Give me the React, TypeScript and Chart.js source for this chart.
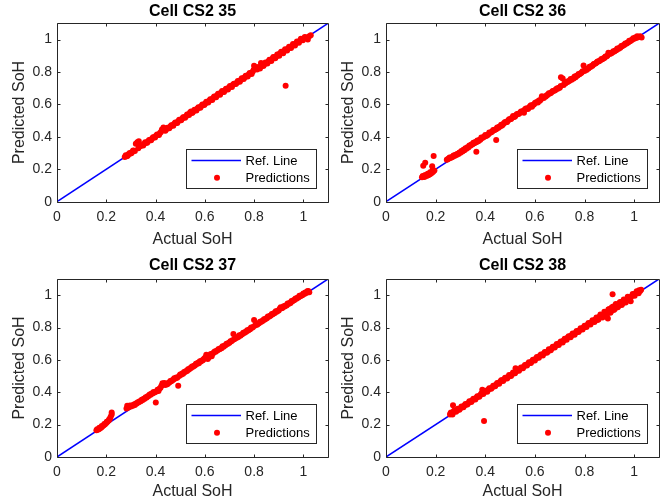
import React, { useEffect, useRef } from 'react';
import { Chart, registerables } from 'chart.js';

Chart.register(...registerables);

const cellTitles = ['Cell CS2 35', 'Cell CS2 36', 'Cell CS2 37', 'Cell CS2 38'];
const xAxisLabel = 'Actual SoH';
const yAxisLabel = 'Predicted SoH';
const seriesLabels = ['Ref. Line', 'Predictions'];
const tickValues = [0, 0.2, 0.4, 0.6, 0.8, 1];
const tickLabels = ['0', '0.2', '0.4', '0.6', '0.8', '1'];
const axisMin = 0;
const axisMax = 1.1;
const refLineX = [0, 1.1];
const refLineY = [0, 1.1];

const cs35Actual = [
  0.275, 0.283, 0.290, 0.298, 0.305, 0.312, 0.320, 0.326, 0.332, 0.330,
  0.338, 0.346, 0.354, 0.362, 0.370, 0.378, 0.386, 0.394, 0.402, 0.410,
  0.418, 0.426, 0.432, 0.436, 0.444, 0.452, 0.460, 0.468, 0.476, 0.484,
  0.492, 0.500, 0.508, 0.516, 0.524, 0.532, 0.540, 0.546, 0.554, 0.562,
  0.570, 0.578, 0.586, 0.594, 0.602, 0.610, 0.618, 0.626, 0.634, 0.642,
  0.650, 0.658, 0.666, 0.674, 0.682, 0.690, 0.698, 0.706, 0.714, 0.722,
  0.730, 0.738, 0.746, 0.754, 0.762, 0.770, 0.778, 0.786, 0.794, 0.800,
  0.806, 0.812, 0.820, 0.828, 0.834, 0.842, 0.850, 0.858, 0.866, 0.874,
  0.882, 0.890, 0.898, 0.906, 0.914, 0.922, 0.928, 0.930, 0.938, 0.946,
  0.954, 0.962, 0.970, 0.978, 0.986, 0.994, 1.002, 1.010, 1.018, 1.024,
  1.030,
  0.279, 0.287, 0.295, 0.302, 0.309, 0.316, 0.342, 0.350, 0.358, 0.366,
  0.374, 0.382, 0.390, 0.398, 0.406, 0.414, 0.422, 0.440, 0.448, 0.456,
  0.464, 0.472, 0.480, 0.488, 0.496, 0.504, 0.512, 0.520, 0.528, 0.536,
  0.544, 0.550, 0.558, 0.566, 0.574, 0.582, 0.590, 0.598, 0.606, 0.614,
  0.622, 0.630, 0.638, 0.646, 0.654, 0.662, 0.670, 0.678, 0.686, 0.694,
  0.702, 0.710, 0.718, 0.726, 0.734, 0.742, 0.750, 0.758, 0.766, 0.774,
  0.782, 0.790, 0.798, 0.810, 0.816, 0.824, 0.832, 0.838, 0.846, 0.854,
  0.862, 0.870, 0.878, 0.886, 0.894, 0.902, 0.910, 0.918, 0.926, 0.934,
  0.942, 0.950, 0.958, 0.966, 0.974, 0.982, 0.990, 0.998, 1.006, 1.014,
];
const cs35Predicted = [
  0.276, 0.280, 0.292, 0.297, 0.306, 0.314, 0.358, 0.366, 0.372, 0.330,
  0.342, 0.348, 0.357, 0.364, 0.373, 0.381, 0.390, 0.397, 0.406, 0.413,
  0.423, 0.445, 0.458, 0.441, 0.447, 0.455, 0.463, 0.472, 0.480, 0.487,
  0.496, 0.503, 0.512, 0.520, 0.527, 0.537, 0.550, 0.547, 0.558, 0.565,
  0.574, 0.581, 0.590, 0.598, 0.606, 0.614, 0.622, 0.630, 0.639, 0.647,
  0.656, 0.665, 0.672, 0.679, 0.687, 0.696, 0.704, 0.712, 0.721, 0.727,
  0.733, 0.742, 0.751, 0.760, 0.768, 0.774, 0.784, 0.792, 0.802, 0.838,
  0.826, 0.815, 0.824, 0.855, 0.840, 0.847, 0.856, 0.864, 0.873, 0.882,
  0.890, 0.896, 0.907, 0.916, 0.920, 0.929, 0.715, 0.936, 0.944, 0.952,
  0.960, 0.968, 0.977, 0.984, 0.993, 0.998, 1.006, 1.012, 1.000, 1.020,
  1.026,
  0.286, 0.284, 0.300, 0.299, 0.316, 0.312, 0.348, 0.347, 0.366, 0.363,
  0.381, 0.379, 0.398, 0.396, 0.414, 0.411, 0.430, 0.438, 0.456, 0.453,
  0.472, 0.469, 0.488, 0.486, 0.505, 0.502, 0.521, 0.518, 0.537, 0.534,
  0.556, 0.548, 0.567, 0.563, 0.583, 0.579, 0.600, 0.596, 0.616, 0.611,
  0.632, 0.627, 0.649, 0.644, 0.665, 0.660, 0.682, 0.676, 0.697, 0.692,
  0.714, 0.707, 0.728, 0.725, 0.744, 0.740, 0.761, 0.756, 0.777, 0.772,
  0.794, 0.788, 0.812, 0.826, 0.830, 0.822, 0.848, 0.836, 0.858, 0.852,
  0.875, 0.868, 0.892, 0.884, 0.908, 0.900, 0.925, 0.915, 0.940, 0.932,
  0.955, 0.948, 0.972, 0.963, 0.988, 0.980, 1.004, 0.996, 1.016, 1.010,
];

const cs36Actual = [
  0.145, 0.150, 0.155, 0.160, 0.165, 0.170, 0.175, 0.180, 0.185, 0.190,
  0.195, 0.150, 0.158, 0.186, 0.192, 0.245, 0.252, 0.260, 0.268, 0.276,
  0.284, 0.292, 0.300, 0.308, 0.316, 0.324, 0.332, 0.340, 0.348, 0.356,
  0.364, 0.364, 0.372, 0.380, 0.388, 0.396, 0.404, 0.412, 0.420, 0.428,
  0.436, 0.444, 0.444, 0.452, 0.460, 0.468, 0.476, 0.484, 0.492, 0.500,
  0.508, 0.516, 0.524, 0.532, 0.540, 0.548, 0.556, 0.564, 0.572, 0.580,
  0.588, 0.596, 0.604, 0.612, 0.620, 0.628, 0.636, 0.644, 0.652, 0.660,
  0.668, 0.676, 0.684, 0.692, 0.700, 0.705, 0.712, 0.716, 0.724, 0.732,
  0.740, 0.748, 0.756, 0.764, 0.772, 0.780, 0.788, 0.796, 0.800, 0.808,
  0.816, 0.824, 0.832, 0.840, 0.848, 0.856, 0.864, 0.872, 0.880, 0.888,
  0.896, 0.904, 0.912, 0.920, 0.928, 0.936, 0.944, 0.952, 0.960, 0.968,
  0.976, 0.984, 0.992, 1.000, 1.008, 1.016, 1.024, 1.030,
  0.148, 0.158, 0.168, 0.178, 0.188, 0.248, 0.256, 0.264, 0.272, 0.280,
  0.288, 0.296, 0.304, 0.312, 0.320, 0.328, 0.336, 0.344, 0.352, 0.360,
  0.368, 0.376, 0.384, 0.392, 0.400, 0.408, 0.416, 0.424, 0.432, 0.440,
  0.448, 0.456, 0.464, 0.472, 0.480, 0.488, 0.496, 0.504, 0.512, 0.520,
  0.528, 0.536, 0.544, 0.552, 0.560, 0.568, 0.576, 0.584, 0.592, 0.600,
  0.608, 0.616, 0.624, 0.632, 0.640, 0.648, 0.656, 0.664, 0.672, 0.680,
  0.688, 0.696, 0.704, 0.720, 0.728, 0.736, 0.744, 0.752, 0.760, 0.768,
  0.776, 0.784, 0.792, 0.804, 0.812, 0.820, 0.828, 0.836, 0.844, 0.852,
  0.860, 0.868, 0.876, 0.884, 0.892, 0.900, 0.908, 0.916, 0.924, 0.932,
  0.940, 0.948, 0.956, 0.964, 0.972, 0.980, 0.988, 0.996, 1.004, 1.012,
];
const cs36Predicted = [
  0.150, 0.155, 0.152, 0.158, 0.160, 0.163, 0.168, 0.172, 0.178, 0.185,
  0.192, 0.222, 0.240, 0.218, 0.282, 0.258, 0.265, 0.270, 0.276, 0.282,
  0.288, 0.294, 0.302, 0.310, 0.318, 0.326, 0.334, 0.345, 0.352, 0.360,
  0.308, 0.366, 0.372, 0.382, 0.392, 0.400, 0.405, 0.414, 0.425, 0.433,
  0.440, 0.380, 0.447, 0.455, 0.464, 0.470, 0.485, 0.490, 0.500, 0.508,
  0.518, 0.522, 0.535, 0.540, 0.548, 0.555, 0.548, 0.575, 0.572, 0.588,
  0.585, 0.600, 0.612, 0.612, 0.622, 0.650, 0.640, 0.648, 0.660, 0.667,
  0.676, 0.684, 0.690, 0.696, 0.702, 0.768, 0.760, 0.720, 0.730, 0.738,
  0.746, 0.752, 0.760, 0.768, 0.778, 0.786, 0.795, 0.840, 0.806, 0.812,
  0.822, 0.830, 0.838, 0.850, 0.856, 0.865, 0.872, 0.878, 0.886, 0.895,
  0.918, 0.912, 0.920, 0.926, 0.934, 0.942, 0.950, 0.958, 0.966, 0.974,
  0.982, 0.990, 0.998, 1.004, 1.010, 1.014, 1.020, 1.012,
  0.158, 0.165, 0.172, 0.182, 0.195, 0.262, 0.272, 0.274, 0.285, 0.290,
  0.296, 0.304, 0.313, 0.321, 0.330, 0.336, 0.346, 0.352, 0.363, 0.368,
  0.378, 0.380, 0.396, 0.398, 0.412, 0.410, 0.426, 0.428, 0.442, 0.445,
  0.458, 0.462, 0.474, 0.478, 0.492, 0.492, 0.508, 0.510, 0.528, 0.526,
  0.540, 0.542, 0.556, 0.560, 0.570, 0.574, 0.580, 0.594, 0.596, 0.608,
  0.614, 0.624, 0.630, 0.642, 0.648, 0.656, 0.668, 0.670, 0.682, 0.686,
  0.698, 0.702, 0.714, 0.732, 0.740, 0.744, 0.756, 0.760, 0.772, 0.776,
  0.788, 0.792, 0.804, 0.818, 0.820, 0.832, 0.836, 0.848, 0.852, 0.864,
  0.868, 0.880, 0.884, 0.896, 0.900, 0.912, 0.916, 0.928, 0.932, 0.944,
  0.948, 0.960, 0.964, 0.976, 0.980, 0.992, 0.996, 1.008, 1.012, 1.020,
];

const cs37Actual = [
  0.160, 0.165, 0.170, 0.175, 0.180, 0.185, 0.190, 0.195, 0.200, 0.205,
  0.210, 0.215, 0.218, 0.222, 0.222, 0.282, 0.285, 0.292, 0.300, 0.308,
  0.316, 0.324, 0.332, 0.340, 0.348, 0.356, 0.364, 0.372, 0.380, 0.388,
  0.396, 0.401, 0.404, 0.412, 0.420, 0.428, 0.436, 0.440, 0.448, 0.456,
  0.464, 0.472, 0.480, 0.488, 0.492, 0.496, 0.504, 0.512, 0.520, 0.528,
  0.536, 0.544, 0.552, 0.560, 0.568, 0.576, 0.584, 0.592, 0.600, 0.606,
  0.612, 0.620, 0.628, 0.636, 0.644, 0.652, 0.660, 0.668, 0.676, 0.684,
  0.692, 0.700, 0.708, 0.716, 0.720, 0.728, 0.736, 0.744, 0.752, 0.760,
  0.768, 0.776, 0.784, 0.792, 0.800, 0.804, 0.812, 0.820, 0.828, 0.836,
  0.844, 0.852, 0.860, 0.868, 0.876, 0.884, 0.892, 0.900, 0.908, 0.916,
  0.924, 0.932, 0.940, 0.948, 0.956, 0.964, 0.972, 0.980, 0.988, 0.996,
  1.004, 1.012, 1.020, 1.024,
  0.163, 0.172, 0.182, 0.192, 0.202, 0.212, 0.288, 0.296, 0.304, 0.312,
  0.320, 0.328, 0.336, 0.344, 0.352, 0.360, 0.368, 0.376, 0.384, 0.392,
  0.408, 0.416, 0.424, 0.444, 0.452, 0.460, 0.468, 0.476, 0.484, 0.500,
  0.508, 0.516, 0.524, 0.532, 0.540, 0.548, 0.556, 0.564, 0.572, 0.580,
  0.588, 0.596, 0.604, 0.616, 0.624, 0.632, 0.640, 0.648, 0.656, 0.664,
  0.672, 0.680, 0.688, 0.696, 0.704, 0.712, 0.724, 0.732, 0.740, 0.748,
  0.756, 0.764, 0.772, 0.780, 0.788, 0.796, 0.808, 0.816, 0.824, 0.832,
  0.840, 0.848, 0.856, 0.864, 0.872, 0.880, 0.888, 0.896, 0.904, 0.912,
  0.920, 0.928, 0.936, 0.944, 0.952, 0.960, 0.968, 0.976, 0.984, 0.992,
  1.000, 1.008, 1.016,
];
const cs37Predicted = [
  0.165, 0.168, 0.172, 0.178, 0.183, 0.190, 0.196, 0.203, 0.210, 0.218,
  0.226, 0.236, 0.248, 0.262, 0.275, 0.300, 0.316, 0.310, 0.312, 0.316,
  0.322, 0.330, 0.338, 0.344, 0.352, 0.360, 0.368, 0.377, 0.384, 0.392,
  0.398, 0.337, 0.405, 0.408, 0.428, 0.455, 0.458, 0.445, 0.450, 0.460,
  0.468, 0.478, 0.485, 0.490, 0.440, 0.500, 0.508, 0.515, 0.525, 0.532,
  0.540, 0.550, 0.558, 0.566, 0.575, 0.580, 0.590, 0.598, 0.612, 0.632,
  0.605, 0.628, 0.622, 0.645, 0.650, 0.660, 0.666, 0.672, 0.682, 0.690,
  0.698, 0.706, 0.716, 0.760, 0.728, 0.735, 0.742, 0.750, 0.758, 0.766,
  0.774, 0.782, 0.790, 0.798, 0.846, 0.812, 0.818, 0.826, 0.834, 0.842,
  0.850, 0.858, 0.866, 0.874, 0.882, 0.890, 0.898, 0.906, 0.926, 0.922,
  0.930, 0.936, 0.946, 0.952, 0.962, 0.970, 0.978, 0.986, 0.994, 1.000,
  1.008, 1.014, 1.026, 1.018,
  0.172, 0.180, 0.192, 0.204, 0.218, 0.234, 0.305, 0.318, 0.318, 0.324,
  0.330, 0.338, 0.344, 0.354, 0.360, 0.370, 0.376, 0.386, 0.392, 0.402,
  0.416, 0.422, 0.440, 0.452, 0.458, 0.470, 0.474, 0.486, 0.492, 0.510,
  0.516, 0.526, 0.532, 0.542, 0.548, 0.560, 0.564, 0.576, 0.582, 0.592,
  0.596, 0.606, 0.618, 0.615, 0.636, 0.640, 0.652, 0.656, 0.668, 0.672,
  0.684, 0.688, 0.700, 0.704, 0.716, 0.722, 0.738, 0.740, 0.752, 0.756,
  0.768, 0.772, 0.784, 0.788, 0.800, 0.804, 0.822, 0.824, 0.836, 0.840,
  0.852, 0.856, 0.868, 0.872, 0.884, 0.888, 0.900, 0.904, 0.916, 0.920,
  0.932, 0.936, 0.948, 0.952, 0.964, 0.968, 0.980, 0.984, 0.996, 1.000,
  1.010, 1.016, 1.024,
];

const cs38Actual = [
  0.258, 0.262, 0.266, 0.270, 0.272, 0.278, 0.285, 0.292, 0.300, 0.308,
  0.316, 0.324, 0.332, 0.340, 0.348, 0.356, 0.364, 0.372, 0.380, 0.388,
  0.395, 0.396, 0.404, 0.412, 0.420, 0.428, 0.436, 0.444, 0.452, 0.460,
  0.468, 0.476, 0.484, 0.492, 0.500, 0.508, 0.516, 0.522, 0.524, 0.532,
  0.540, 0.548, 0.556, 0.564, 0.572, 0.580, 0.588, 0.596, 0.604, 0.612,
  0.620, 0.628, 0.636, 0.644, 0.652, 0.660, 0.668, 0.676, 0.684, 0.692,
  0.700, 0.708, 0.716, 0.724, 0.732, 0.740, 0.748, 0.756, 0.764, 0.772,
  0.780, 0.788, 0.796, 0.804, 0.812, 0.820, 0.828, 0.836, 0.844, 0.852,
  0.860, 0.868, 0.876, 0.884, 0.890, 0.894, 0.900, 0.906, 0.913, 0.916,
  0.922, 0.930, 0.938, 0.946, 0.954, 0.962, 0.970, 0.978, 0.986, 0.990,
  0.998, 1.006, 1.014, 1.020, 1.028,
  0.260, 0.268, 0.275, 0.282, 0.289, 0.296, 0.304, 0.312, 0.320, 0.328,
  0.336, 0.344, 0.352, 0.360, 0.368, 0.376, 0.384, 0.392, 0.400, 0.408,
  0.416, 0.424, 0.432, 0.440, 0.448, 0.456, 0.464, 0.472, 0.480, 0.488,
  0.496, 0.504, 0.512, 0.520, 0.528, 0.536, 0.544, 0.552, 0.560, 0.568,
  0.576, 0.584, 0.592, 0.600, 0.608, 0.616, 0.624, 0.632, 0.640, 0.648,
  0.656, 0.664, 0.672, 0.680, 0.688, 0.696, 0.704, 0.712, 0.720, 0.728,
  0.736, 0.744, 0.752, 0.760, 0.768, 0.776, 0.784, 0.792, 0.800, 0.808,
  0.816, 0.824, 0.832, 0.840, 0.848, 0.856, 0.864, 0.872, 0.880, 0.888,
  0.896, 0.904, 0.910, 0.918, 0.926, 0.934, 0.942, 0.950, 0.958, 0.966,
  0.974, 0.982, 0.994, 1.002, 1.010, 1.018, 1.024,
];
const cs38Predicted = [
  0.262, 0.275, 0.268, 0.320, 0.280, 0.282, 0.286, 0.294, 0.302, 0.310,
  0.318, 0.325, 0.334, 0.343, 0.350, 0.358, 0.366, 0.374, 0.383, 0.415,
  0.222, 0.400, 0.408, 0.415, 0.424, 0.430, 0.440, 0.448, 0.455, 0.465,
  0.475, 0.480, 0.490, 0.495, 0.503, 0.512, 0.518, 0.548, 0.528, 0.536,
  0.544, 0.552, 0.560, 0.568, 0.576, 0.583, 0.592, 0.600, 0.608, 0.615,
  0.625, 0.632, 0.640, 0.648, 0.650, 0.663, 0.670, 0.680, 0.688, 0.695,
  0.704, 0.712, 0.720, 0.728, 0.738, 0.745, 0.752, 0.760, 0.768, 0.776,
  0.784, 0.792, 0.800, 0.808, 0.818, 0.824, 0.833, 0.842, 0.850, 0.846,
  0.866, 0.878, 0.870, 0.895, 0.880, 0.856, 0.915, 0.898, 1.005, 0.930,
  0.915, 0.942, 0.935, 0.958, 0.950, 0.970, 0.968, 0.985, 0.962, 0.994,
  1.002, 1.012, 1.020, 1.030, 1.034,
  0.270, 0.262, 0.287, 0.279, 0.298, 0.292, 0.312, 0.307, 0.328, 0.324,
  0.344, 0.340, 0.360, 0.356, 0.376, 0.372, 0.393, 0.389, 0.410, 0.404,
  0.425, 0.421, 0.441, 0.437, 0.458, 0.452, 0.474, 0.469, 0.490, 0.485,
  0.506, 0.501, 0.522, 0.517, 0.537, 0.533, 0.553, 0.549, 0.569, 0.565,
  0.585, 0.581, 0.601, 0.597, 0.618, 0.613, 0.634, 0.628, 0.649, 0.644,
  0.666, 0.660, 0.682, 0.676, 0.698, 0.692, 0.714, 0.708, 0.731, 0.724,
  0.746, 0.740, 0.763, 0.756, 0.779, 0.772, 0.795, 0.788, 0.811, 0.804,
  0.828, 0.819, 0.845, 0.835, 0.862, 0.850, 0.880, 0.862, 0.898, 0.876,
  0.912, 0.892, 0.926, 0.908, 0.945, 0.925, 0.956, 0.940, 0.974, 0.955,
  0.990, 0.972, 1.008, 0.996, 1.024, 1.012, 1.026,
];

const cellActual = [cs35Actual, cs36Actual, cs37Actual, cs38Actual];
const cellPredicted = [cs35Predicted, cs36Predicted, cs37Predicted, cs38Predicted];

// layout of each subplot (page pixels, not data)
const panels = [
  { left: 0, top: 0, width: 332, height: 252, yAxisW: 57, padRight: 2.5, titleTop: 2.4, titleBottom: 1.7, xAxisH: 50.3, yTitlePad: 10 },
  { left: 332, top: 0, width: 333, height: 252, yAxisW: 54, padRight: 6, titleTop: 2.4, titleBottom: 1.7, xAxisH: 50.3, yTitlePad: 6.6 },
  { left: 0, top: 252, width: 332, height: 252, yAxisW: 57, padRight: 2.5, titleTop: 4.1, titleBottom: 3.7, xAxisH: 47, yTitlePad: 10 },
  { left: 332, top: 252, width: 333, height: 252, yAxisW: 54, padRight: 6, titleTop: 4.1, titleBottom: 3.7, xAxisH: 47, yTitlePad: 6.6 },
];

const FONT = '"Liberation Sans", Arial, Helvetica, sans-serif';
const AX_COLOR = '#262626';

const boxPlugin = {
  id: 'matlabBox',
  afterDatasetsDraw(chart: any) {
    const { ctx, chartArea: a, scales } = chart;
    const L = Math.round(a.left) + 0.5;
    const R = Math.round(a.right) + 0.5;
    const T = Math.round(a.top) + 0.5;
    const B = Math.round(a.bottom) + 0.5;
    const tl = 3;
    ctx.save();
    ctx.strokeStyle = AX_COLOR;
    ctx.lineWidth = 1;
    ctx.beginPath();
    ctx.rect(L, T, R - L, B - T);
    tickValues.forEach((v) => {
      const x = Math.round(scales.x.getPixelForValue(v)) + 0.5;
      ctx.moveTo(x, B); ctx.lineTo(x, B - tl);
      ctx.moveTo(x, T); ctx.lineTo(x, T + tl);
      const y = Math.round(scales.y.getPixelForValue(v)) + 0.5;
      ctx.moveTo(L, y); ctx.lineTo(L + tl, y);
      ctx.moveTo(R, y); ctx.lineTo(R - tl, y);
    });
    ctx.stroke();
    ctx.restore();
  },
};

const legendPlugin = {
  id: 'matlabLegend',
  afterDraw(chart: any) {
    const { ctx, chartArea: a } = chart;
    const ds = chart.data.datasets;
    const w = 130;
    const h = 39;
    const right = Math.round(a.right - 12.5);
    const bottom = Math.round(a.bottom - 14);
    const left = right - w;
    const top = bottom - h;
    ctx.save();
    ctx.fillStyle = '#ffffff';
    ctx.fillRect(left, top, w, h);
    ctx.strokeStyle = AX_COLOR;
    ctx.lineWidth = 1;
    ctx.strokeRect(left + 0.5, top + 0.5, w, h);
    const y1 = top + 11.5;
    const y2 = top + 28.8;
    ctx.strokeStyle = ds[0].borderColor;
    ctx.lineWidth = 1.5;
    ctx.beginPath();
    ctx.moveTo(left + 5.5, y1);
    ctx.lineTo(left + 55, y1);
    ctx.stroke();
    ctx.fillStyle = ds[1].backgroundColor;
    ctx.beginPath();
    ctx.arc(left + 31, y2, 3, 0, Math.PI * 2);
    ctx.fill();
    ctx.fillStyle = '#000000';
    ctx.font = '13px ' + FONT;
    ctx.textAlign = 'left';
    ctx.textBaseline = 'middle';
    ctx.fillText(ds[0].label, left + 59.5, y1 + 0.5);
    ctx.fillText(ds[1].label, left + 59.5, y2 + 0.5);
    ctx.restore();
  },
};

function tickLabel(v: number) {
  const i = tickValues.indexOf(v);
  return i >= 0 ? tickLabels[i] : '';
}

function Panel({ index }: { index: number }) {
  const ref = useRef<HTMLCanvasElement | null>(null);
  const p = panels[index];
  useEffect(() => {
    if (!ref.current) return;
    const actual = cellActual[index];
    const predicted = cellPredicted[index];
    const chart = new Chart(ref.current, {
      type: 'scatter',
      data: {
        datasets: [
          {
            label: seriesLabels[0],
            data: refLineX.map((x, i) => ({ x, y: refLineY[i] })),
            showLine: true,
            borderColor: '#0000ff',
            backgroundColor: '#0000ff',
            borderWidth: 1.5,
            pointRadius: 0,
            order: 2,
          },
          {
            label: seriesLabels[1],
            data: actual.map((x, i) => ({ x, y: predicted[i] })),
            showLine: false,
            backgroundColor: '#ff0000',
            borderColor: '#ff0000',
            borderWidth: 0,
            pointRadius: 3,
            order: 1,
          },
        ],
      },
      options: {
        animation: false,
        responsive: false,
        devicePixelRatio: 1,
        layout: { padding: { left: 0, right: p.padRight, top: 0, bottom: 0 } },
        plugins: {
          legend: { display: false },
          tooltip: { enabled: false },
          title: {
            display: true,
            text: cellTitles[index],
            fullSize: false,
            color: '#000000',
            font: { family: FONT, size: 16, weight: 'bold', lineHeight: 1.2 },
            padding: { top: p.titleTop, bottom: p.titleBottom },
          },
        },
        scales: {
          x: {
            type: 'linear',
            min: axisMin,
            max: axisMax,
            grid: { display: false, drawTicks: false },
            border: { display: false },
            ticks: {
              padding: 7,
              autoSkip: false,
              maxRotation: 0,
              color: AX_COLOR,
              font: { family: FONT, size: 14, lineHeight: 1.2 },
              callback: (v: any) => tickLabel(Number(v)),
            },
            afterBuildTicks: (s: any) => {
              s.ticks = tickValues.map((v) => ({ value: v }));
            },
            afterFit: (s: any) => {
              s.height = p.xAxisH;
            },
            title: {
              display: true,
              text: xAxisLabel,
              color: AX_COLOR,
              font: { family: FONT, size: 16, lineHeight: 1.2 },
              padding: { top: 0, bottom: 3 },
            },
          },
          y: {
            type: 'linear',
            min: axisMin,
            max: axisMax,
            grid: { display: false, drawTicks: false },
            border: { display: false },
            ticks: {
              padding: 5,
              autoSkip: false,
              color: AX_COLOR,
              font: { family: FONT, size: 14, lineHeight: 1.2 },
              callback: (v: any) => tickLabel(Number(v)),
            },
            afterBuildTicks: (s: any) => {
              s.ticks = tickValues.map((v) => ({ value: v }));
            },
            afterFit: (s: any) => {
              s.width = p.yAxisW;
            },
            title: {
              display: true,
              text: yAxisLabel,
              color: AX_COLOR,
              font: { family: FONT, size: 16, lineHeight: 1.2 },
              padding: { top: p.yTitlePad, bottom: 0 },
            },
          },
        },
      } as any,
      plugins: [boxPlugin, legendPlugin],
    });
    return () => chart.destroy();
  }, [index]);
  return (
    <canvas
      ref={ref}
      width={p.width}
      height={p.height}
      style={{ position: 'absolute', left: p.left, top: p.top, width: p.width, height: p.height, display: 'block' }}
    />
  );
}

export default function App() {
  return (
    <div style={{ position: 'absolute', left: 0, top: 0, width: 665, height: 504, background: '#ffffff', overflow: 'hidden' }}>
      {panels.map((_, i) => (
        <Panel key={i} index={i} />
      ))}
    </div>
  );
}
